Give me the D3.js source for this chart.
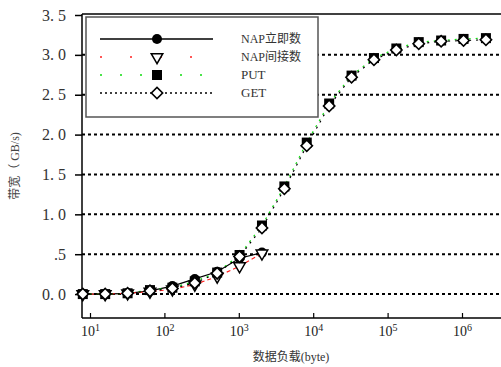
<!DOCTYPE html>
<html>
<head>
<meta charset="utf-8">
<script src="https://cdn.jsdelivr.net/npm/d3@7"></script>
<style>
  body { margin: 0; background: #fff; }
  text { font-family: "Liberation Serif", "DejaVu Serif", "Noto Sans CJK SC", serif; }
</style>
</head>
<body>
<svg id="chart"></svg>
<script>
const w = 501, h = 367;

// message sizes in bytes
const sizes = [8, 16, 32, 64, 128, 256, 512, 1024, 2048, 4096, 8192, 16384, 32768,
  65536, 131072, 262144, 524288, 1048576, 2097152];
// bandwidth GB/s
const napImm = [0.00, 0.00, 0.01, 0.04, 0.10, 0.19, 0.28, 0.45, 0.52];
const napInd = [0.00, 0.00, 0.01, 0.03, 0.06, 0.12, 0.22, 0.35, 0.51];
const put = [0.00, 0.00, 0.01, 0.05, 0.08, 0.16, 0.27, 0.49, 0.86, 1.35, 1.90, 2.39,
  2.74, 2.96, 3.08, 3.16, 3.18, 3.20, 3.21];
const get = [0.00, 0.00, 0.01, 0.04, 0.07, 0.14, 0.26, 0.47, 0.83, 1.32, 1.86, 2.36,
  2.72, 2.94, 3.06, 3.14, 3.17, 3.18, 3.19];

const names = ["NAP立即数", "NAP间接数", "PUT", "GET"];
const yTicks = [0, 0.5, 1.0, 1.5, 2.0, 2.5, 3.0, 3.5];
const yTickLabels = ["0. 0", ".5", "1. 0", "1. 5", "2. 0", "2. 5", "3. 0", "3. 5"];
const xTicks = [1e1, 1e2, 1e3, 1e4, 1e5, 1e6];

const pLeft = 82, pTop = 14, pBottom = 318, pRight = w;

const svg = d3.select("#chart").attr("width", w).attr("height", h);

const x = d3.scaleLog().domain([10, 1e6]).range([90, 462]);
const y = d3.scaleLinear().domain([-0.3, 3.5]).range([pBottom, pTop + 1]);

// grid
svg.append("g")
  .selectAll("line")
  .data(yTicks.slice(0, 7))
  .join("line")
    .attr("x1", pLeft).attr("x2", pRight)
    .attr("y1", d => y(d)).attr("y2", d => y(d))
    .style("stroke", "#000")
    .style("stroke-width", 2)
    .style("stroke-dasharray", "3,3");

// frame
svg.append("line").attr("x1", pLeft).attr("x2", pRight).attr("y1", pTop).attr("y2", pTop)
  .style("stroke", "#000").style("stroke-width", 1.5);

// y axis
const yAxis = d3.axisLeft(y).tickValues(yTicks).tickSize(7)
  .tickFormat((d, i) => yTickLabels[i]);
const gy = svg.append("g").attr("transform", `translate(${pLeft},0)`).call(yAxis);
gy.attr("font-family", null);
gy.select(".domain").attr("d", `M0,${pTop}V${pBottom}`).style("stroke-width", 1.5);
gy.selectAll(".tick line").style("stroke-width", 1.5);
gy.selectAll(".tick text")
  .attr("x", -16)
  .style("font-size", "16px")
  .style("fill", "#333");

// x axis, ticks inward
const xAxis = d3.axisBottom(x).tickValues(xTicks).tickSizeInner(-5).tickSizeOuter(0)
  .tickFormat("");
const gx = svg.append("g").attr("transform", `translate(0,${pBottom})`).call(xAxis);
gx.attr("font-family", null);
gx.select(".domain").attr("d", `M${pLeft},0H${pRight}`).style("stroke-width", 1.5);
gx.selectAll(".tick line").style("stroke-width", 1.2);
gx.selectAll(".tick").append("text")
  .attr("y", 18)
  .style("fill", "#222")
  .style("font-size", "14px")
  .style("text-anchor", "middle")
  .each(function (d) {
    const t = d3.select(this);
    t.append("tspan").text("10");
    t.append("tspan").attr("dy", -5).style("font-size", "10px")
      .text(Math.round(Math.log10(d)));
  });

// axis labels
svg.append("text")
  .attr("x", 291).attr("y", 361)
  .style("text-anchor", "middle")
  .style("font-size", "12px")
  .style("fill", "#333")
  .text("数据负载(byte)");

svg.append("text")
  .attr("transform", "translate(19,166) rotate(-90)")
  .style("text-anchor", "middle")
  .style("font-size", "12px")
  .style("fill", "#444")
  .text("带宽（ GB/s)");

// series
const series = [
  { vals: napImm, color: "#000", dash: null, mark: "circle" },
  { vals: napInd, color: "#ff2020", dash: "4,3", mark: "triangle" },
  { vals: put, color: "#11dd11", dash: "2,5", mark: "square" },
  { vals: get, color: "#000", dash: "2,5", mark: "diamond" }
];

const line = d3.line().x(d => x(d[0])).y(d => y(d[1]));

function marker(g, type, cx, cy) {
  if (type === "circle") {
    g.append("circle").attr("cx", cx).attr("cy", cy).attr("r", 5).style("fill", "#000");
  } else if (type === "triangle") {
    g.append("path").attr("d", d3.symbol(d3.symbolTriangle, 58)())
      .attr("transform", `translate(${cx},${cy}) rotate(180)`)
      .style("fill", "#fff").style("stroke", "#000").style("stroke-width", 1.5);
  } else if (type === "square") {
    g.append("rect").attr("x", cx - 5).attr("y", cy - 5).attr("width", 10).attr("height", 10)
      .style("fill", "#000");
  } else {
    g.append("path").attr("d", d3.symbol(d3.symbolSquare, 64)())
      .attr("transform", `translate(${cx},${cy}) rotate(45)`)
      .style("fill", "#fff").style("stroke", "#000").style("stroke-width", 1.6);
  }
}

series.forEach(s => {
  const pts = s.vals.map((v, i) => [sizes[i], v]);
  svg.append("path")
    .datum(pts)
    .attr("d", line)
    .style("fill", "none")
    .style("stroke", s.color)
    .style("stroke-width", 1.2)
    .style("stroke-dasharray", s.dash);
  const g = svg.append("g");
  pts.forEach(p => marker(g, s.mark, x(p[0]), y(p[1])));
});

// legend
const lg = svg.append("g");
lg.append("rect")
  .attr("x", 86).attr("y", 17).attr("width", 232).attr("height", 100)
  .style("fill", "#fff").style("stroke", "#555").style("stroke-width", 1.5);

const legDash = [null, "2,28", "2,18", "2,3"];
series.forEach((s, i) => {
  const ly = 39 + i * 18;
  lg.append("line")
    .attr("x1", 100).attr("x2", 213).attr("y1", ly).attr("y2", ly)
    .style("stroke", s.color)
    .style("stroke-width", 1.5)
    .style("stroke-dasharray", legDash[i]);
  marker(lg, s.mark, 157, ly);
  lg.append("text")
    .attr("x", 241).attr("y", ly + 4)
    .style("font-size", i < 2 ? "12px" : "13px")
    .style("fill", "#333")
    .text(names[i]);
});
</script>
</body>
</html>
